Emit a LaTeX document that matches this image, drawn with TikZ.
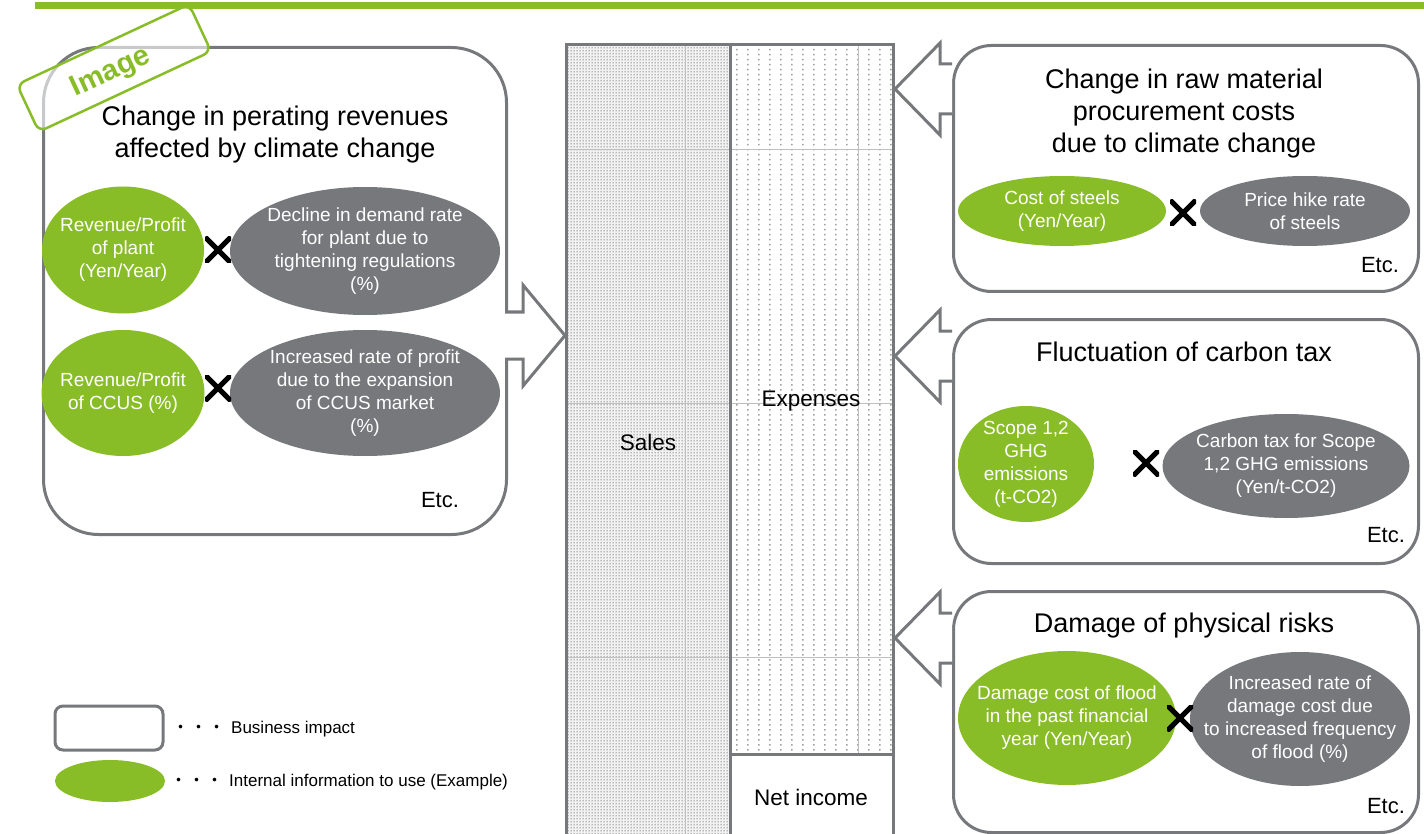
\documentclass[tikz,border=0pt]{standalone}
\usepackage{fontspec}
\setmainfont{Liberation Sans}
\newfontfamily\cjkfont{Noto Sans CJK JP}
\usetikzlibrary{shapes.geometric,patterns.meta}
\definecolor{kgreen}{HTML}{88BD28}
\definecolor{kgray}{HTML}{76787B}
\tikzdeclarepattern{name=densedots, type=colored,
  bounding box={(0pt,0pt) and (3pt,3.3pt)}, tile size={(3pt,3.3pt)},
  code={\fill[gray!80] (0.75pt,0.9pt) rectangle (2.25pt,2.4pt);}}
\tikzset{
  bizbox/.style={draw=kgray, line width=3pt, fill=white, inner sep=0pt},
  gell/.style={ellipse, fill=kgreen, inner sep=0pt},
  kell/.style={ellipse, fill=kgray, inner sep=0pt},
  elltext/.style={text=white, inner sep=0pt, align=center, font=\fontsize{19}{23}\selectfont},
  boxtitle/.style={align=center, inner sep=0pt, font=\fontsize{27}{32}\selectfont},
  etcl/.style={inner sep=0pt, font=\fontsize{22}{26}\selectfont},
  barlabel/.style={inner sep=0pt, font=\fontsize{22.5}{26}\selectfont},
  legendtxt/.style={anchor=west, inner sep=0pt, font=\fontsize{17}{20}\selectfont},
  blockarrow/.style={draw=kgray, line width=3pt, fill=white, line join=miter},
  xmark/.style={minimum size=26pt, inner sep=0pt, path picture={
    \draw[line width=5pt, black] (path picture bounding box.north west) -- (path picture bounding box.south east)
      (path picture bounding box.north east) -- (path picture bounding box.south west);}},
}
\begin{document}
\begin{tikzpicture}[x=1pt,y=-1pt]
\useasboundingbox (0,0) rectangle (1424,834);
% top green line
\fill[kgreen] (35,2) rectangle (1424,9);

% ---------- central bar ----------
\fill[gray!12] (566,45) rectangle (730,840);
\fill[pattern=densedots] (566,45) rectangle (730,840);
\fill[gray!75] \foreach \x in {736,747,...,890} { \foreach \y in {49,54,...,751} { (\x,\y) rectangle ++(1.5,1.5) } };
\draw[gray!50, line width=1pt] (566,150) -- (893,150) (566,403) -- (893,403) (566,657) -- (893,657)
  (685,45) -- (685,840) (858,45) -- (858,754);
\draw[kgray, line width=3pt] (566,840) -- (566,45) -- (893,45) -- (893,840)
  (730,45) -- (730,840) (730,754) -- (893,754);
\node[barlabel] (sales) at (648,442) {Sales};
\node[barlabel] (expenses) at (811,401) {Expenses};
\node[barlabel] (netincome) at (811,797) {Net income};

% ---------- left box ----------
\node[bizbox, rounded corners=55pt, minimum width=463pt, minimum height=487pt, anchor=north west] (lbox) at (42,46) {};
\node[boxtitle] (ltitle) at (275,135) {Change in perating revenues\\affected by climate change};
\node[gell, minimum width=162pt, minimum height=127pt] (g1) at (123,250) {};
\node[elltext] (g1t) at (g1) {Revenue/Profit\\of plant\\(Yen/Year)};
\node[kell, minimum width=270pt, minimum height=128pt] (k1) at (365,251) {};
\node[elltext] (k1t) at (k1) {Decline in demand rate\\for plant due to\\tightening regulations\\(\%)};
\node[xmark] (x1) at (218,250) {};
\node[gell, minimum width=163pt, minimum height=126pt] (g2) at (123,393) {};
\node[elltext] (g2t) at (g2) {Revenue/Profit\\of CCUS (\%)};
\node[kell, minimum width=270pt, minimum height=126pt] (k2) at (365,393) {};
\node[elltext] (k2t) at (k2) {Increased rate of profit\\due to the expansion\\of CCUS market\\(\%)};
\node[xmark] (x2) at (218,388) {};
\node[etcl] (etc1) at (440,500) {Etc.};

% left block arrow
\draw[blockarrow] (505,312) -- (523,312) -- (523,285) -- (565,335.5) -- (523,386) -- (523,359) -- (505,359);

% image tag
\node[draw=kgreen, line width=2.5pt, rounded corners=8pt, fill=white, fill opacity=0.6,
  minimum width=190pt, minimum height=52pt, rotate=25] (tag) at (114,68) {};
\node[text=kgreen, inner sep=0pt, font=\bfseries\fontsize{29}{32}\selectfont, rotate=25] (tagtext) at (111,73) {Image};

% ---------- right boxes ----------
\node[bizbox, rounded corners=38pt, minimum width=465pt, minimum height=246pt, anchor=north west] (rbox1) at (952,44) {};
\node[boxtitle] (rt1) at (1184,114) {Change in raw material\\procurement costs\\due to climate change};
\node[gell, minimum width=208pt, minimum height=70pt] (g3) at (1062,211) {};
\node[elltext] (g3t) at (g3) {Cost of steels\\(Yen/Year)};
\node[kell, minimum width=210pt, minimum height=70pt] (k3) at (1305,211) {};
\node[elltext] (k3t) at (k3) {Price hike rate\\of steels};
\node[xmark] (x3) at (1183,213) {};
\node[etcl] (etc2) at (1380,265) {Etc.};

\node[bizbox, rounded corners=38pt, minimum width=465pt, minimum height=244pt, anchor=north west] (rbox2) at (952,318) {};
\node[boxtitle] (rt2) at (1184,352) {Fluctuation of carbon tax};
\node[gell, minimum width=136pt, minimum height=116pt] (g4) at (1026,464) {};
\node[elltext] (g4t) at (g4) {Scope 1,2\\GHG\\emissions\\(t-CO2)};
\node[kell, minimum width=247pt, minimum height=104pt] (k4) at (1286,466) {};
\node[elltext] (k4t) at (k4) {Carbon tax for Scope\\1,2 GHG emissions\\(Yen/t-CO2)};
\node[xmark] (x4) at (1146,463) {};
\node[etcl] (etc3) at (1386,535) {Etc.};

\node[bizbox, rounded corners=38pt, minimum width=465pt, minimum height=241pt, anchor=north west] (rbox3) at (952,590) {};
\node[boxtitle] (rt3) at (1184,626) {Damage of physical risks};
\node[gell, minimum width=218pt, minimum height=134pt] (g5) at (1067,718) {};
\node[elltext] (g5t) at (g5) {Damage cost of flood\\in the past financial\\year (Yen/Year)};
\node[kell, minimum width=220pt, minimum height=134pt] (k5) at (1300,719) {};
\node[elltext] (k5t) at (k5) {Increased rate of\\damage cost due\\to increased frequency\\of flood (\%)};
\node[xmark] (x5) at (1180,718) {};
\node[etcl] (etc4) at (1386,806) {Etc.};

% right block arrows
\foreach \c in {89,356,638}{
  \draw[blockarrow] (952,\c-25) -- (940,\c-25) -- (940,\c-46) -- (895,\c) -- (940,\c+46) -- (940,\c+25) -- (952,\c+25);
}

% ---------- legend ----------
\node[bizbox, rounded corners=8pt, minimum width=108pt, minimum height=44pt] (legbox) at (109,728) {};
\node[legendtxt] (legbt) at (172,729) {{\cjkfont ・\kern1pt・\kern1pt・}\kern6pt Business impact};
\node[ellipse, fill=kgreen, inner sep=0pt, minimum width=110pt, minimum height=42pt] (legell) at (110,781) {};
\node[legendtxt] (leget) at (170,782) {{\cjkfont ・\kern1pt・\kern1pt・}\kern6pt Internal information to use (Example)};
\end{tikzpicture}
\end{document}
